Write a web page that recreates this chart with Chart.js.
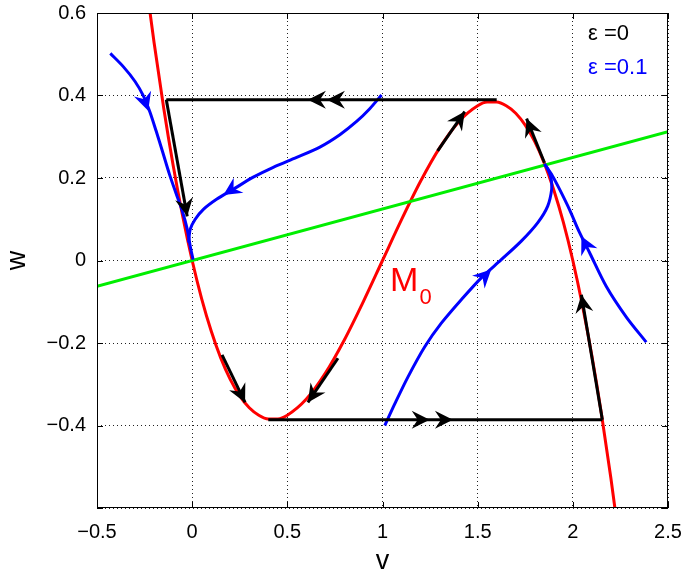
<!DOCTYPE html>
<html>
<head>
<meta charset="utf-8">
<script src="https://cdn.jsdelivr.net/npm/chart.js@4/dist/chart.umd.min.js"></script>
<style>
  html, body { margin: 0; padding: 0; background: #fff; }
</style>
</head>
<body>
<canvas id="myChart" width="685" height="578"></canvas>
<script>
// axes
const xTickValues = [-0.5, 0, 0.5, 1, 1.5, 2, 2.5];
const xTickLabels = ['\u22120.5', '0', '0.5', '1', '1.5', '2', '2.5'];
const yTickValues = [-0.6, -0.4, -0.2, 0, 0.2, 0.4, 0.6];
const yTickLabels = ['', '\u22120.4', '\u22120.2', '0', '0.2', '0.4', '0.6'];

// critical manifold M0 (red)
const redV = [-0.23, -0.2, -0.15, -0.1, -0.05, 0, 0.05, 0.1, 0.15, 0.2, 0.25, 0.3, 0.35, 0.4, 0.45, 0.5, 0.6, 0.7, 0.8, 0.9,
  1.0, 1.1, 1.2, 1.3, 1.4, 1.5, 1.55, 1.6, 1.65, 1.7, 1.75, 1.8, 1.85, 1.9, 1.95, 2.0, 2.05, 2.1, 2.15, 2.2, 2.23];
const redW = [0.631, 0.528, 0.371, 0.231, 0.108, 0, -0.093, -0.171, -0.236, -0.288, -0.328, -0.357, -0.375, -0.384, -0.384, -0.375, -0.336, -0.273, -0.192, -0.099,
  0, 0.099, 0.192, 0.273, 0.336, 0.375, 0.384, 0.384, 0.375, 0.357, 0.328, 0.288, 0.236, 0.171, 0.093, 0, -0.108, -0.231, -0.371, -0.528, -0.631];

// w nullcline (green)
const greenV = [-0.5, 2.5];
const greenW = [-0.0625, 0.3125];

// eps = 0.1 trajectories (blue)
const blue1V = [-0.43, -0.362, -0.3, -0.255, -0.222, -0.19, -0.155, -0.12, -0.085, -0.052, -0.026, -0.01, 0.005];
const blue1W = [0.502, 0.47, 0.434, 0.398, 0.36, 0.315, 0.263, 0.21, 0.163, 0.12, 0.076, 0.034, 0.002];
const blue2V = [0.995, 0.933, 0.864, 0.776, 0.671, 0.549, 0.426, 0.321, 0.217, 0.13, 0.059, 0.016, -0.01, -0.019];
const blue2W = [0.401, 0.368, 0.337, 0.305, 0.275, 0.25, 0.226, 0.202, 0.173, 0.149, 0.124, 0.1, 0.076, 0.043];
const blue3V = [1.012, 1.065, 1.134, 1.222, 1.309, 1.414, 1.519, 1.624, 1.729, 1.816, 1.868, 1.889, 1.886, 1.872, 1.851];
const blue3W = [-0.4, -0.347, -0.282, -0.209, -0.152, -0.095, -0.042, 0.002, 0.047, 0.092, 0.132, 0.173, 0.198, 0.218, 0.234];
const blue4V = [2.386, 2.281, 2.176, 2.087, 2.035, 1.982, 1.93, 1.893, 1.851];
const blue4W = [-0.198, -0.137, -0.063, 0.02, 0.068, 0.124, 0.173, 0.205, 0.234];

// eps = 0 singular orbit pieces (black)
const blackTopV = [-0.136, 1.6],     blackTopW = [0.39, 0.39];
const blackBottomV = [0.4, 2.155],   blackBottomW = [-0.386, -0.386];
const blackLeftV = [-0.136, -0.026], blackLeftW = [0.39, 0.107];
const blackRightV = [2.155, 2.045],  blackRightW = [-0.386, -0.083];
const blackS1V = [1.29, 1.432],  blackS1W = [0.266, 0.361];
const blackS2V = [1.851, 1.757], blackS2W = [0.237, 0.344];
const blackS3V = [0.157, 0.278], blackS3W = [-0.229, -0.344];
const blackS4V = [0.766, 0.608], blackS4W = [-0.237, -0.344];

// arrowheads: [tipV, tipW, tailV, tailW]
const blackArrows = [
  [0.608, 0.39, 0.75, 0.39],
  [0.708, 0.39, 0.85, 0.39],
  [1.248, -0.386, 1.1, -0.386],
  [1.37, -0.386, 1.2, -0.386],
  [-0.026, 0.107, -0.136, 0.39],
  [2.045, -0.083, 2.155, -0.386],
  [1.432, 0.361, 1.29, 0.266],
  [1.757, 0.344, 1.851, 0.237],
  [0.278, -0.344, 0.157, -0.229],
  [0.608, -0.344, 0.766, -0.237]
];
const blueArrows = [
  [-0.231, 0.363, -0.29, 0.445],
  [0.164, 0.159, 0.3, 0.199],
  [1.571, -0.022, 1.467, -0.069],
  [2.045, 0.059, 2.097, 0.01]
];

const FONT = "'Liberation Sans', Arial, Helvetica, sans-serif";

function pts(vs, ws) {
  return vs.map((v, i) => ({ x: v, y: ws[i] }));
}

function line(vs, ws, color, order, tension) {
  return {
    data: pts(vs, ws),
    showLine: true,
    borderColor: color,
    backgroundColor: color,
    borderWidth: 3,
    pointRadius: 0,
    tension: tension || 0,
    order: order,
    clip: 0
  };
}

const blackSegs = [
  [blackTopV, blackTopW], [blackBottomV, blackBottomW], [blackLeftV, blackLeftW], [blackRightV, blackRightW],
  [blackS1V, blackS1W], [blackS2V, blackS2W], [blackS3V, blackS3W], [blackS4V, blackS4W]
];

const datasets = [];
const red = line(redV, redW, '#ff0000', 5);
red.cubicInterpolationMode = 'monotone';
datasets.push(red);
datasets.push(line(greenV, greenW, '#00ee00', 4));
datasets.push(line(blue1V, blue1W, '#0000ff', 3, 0.3));
datasets.push(line(blue2V, blue2W, '#0000ff', 3, 0.3));
datasets.push(line(blue3V, blue3W, '#0000ff', 3, 0.3));
datasets.push(line(blue4V, blue4W, '#0000ff', 3, 0.3));
blackSegs.forEach(s => datasets.push(line(s[0], s[1], '#000000', 1)));

function drawArrow(ctx, xs, ys, a) {
  const tx = xs.getPixelForValue(a[0]), ty = ys.getPixelForValue(a[1]);
  const fx = xs.getPixelForValue(a[2]), fy = ys.getPixelForValue(a[3]);
  let dx = tx - fx, dy = ty - fy;
  const len = Math.hypot(dx, dy);
  dx /= len; dy /= len;
  const L = 18, W = 9, N = 12;
  const bx = tx - dx * L, by = ty - dy * L;
  ctx.beginPath();
  ctx.moveTo(tx, ty);
  ctx.lineTo(bx - dy * W, by + dx * W);
  ctx.lineTo(tx - dx * N, ty - dy * N);
  ctx.lineTo(bx + dy * W, by - dx * W);
  ctx.closePath();
  ctx.fill();
}

const extras = {
  id: 'extras',
  afterDatasetsDraw(chart) {
    const { ctx, chartArea: a, scales: { x, y } } = chart;
    ctx.save();
    ctx.fillStyle = '#000';
    blackArrows.forEach(ar => drawArrow(ctx, x, y, ar));
    ctx.fillStyle = '#0000ff';
    blueArrows.forEach(ar => drawArrow(ctx, x, y, ar));

    // box + inward ticks
    ctx.strokeStyle = '#000';
    ctx.lineWidth = 1;
    ctx.strokeRect(a.left + 0.5, a.top + 0.5, a.width - 1, a.height - 1);
    ctx.beginPath();
    xTickValues.forEach(v => {
      const px = Math.round(x.getPixelForValue(v)) + 0.5;
      ctx.moveTo(px, a.bottom); ctx.lineTo(px, a.bottom - 6);
      ctx.moveTo(px, a.top); ctx.lineTo(px, a.top + 6);
    });
    yTickValues.forEach(v => {
      const py = Math.round(y.getPixelForValue(v)) + 0.5;
      ctx.moveTo(a.left, py); ctx.lineTo(a.left + 6, py);
      ctx.moveTo(a.right, py); ctx.lineTo(a.right - 6, py);
    });
    ctx.stroke();

    // legend text
    ctx.textBaseline = 'alphabetic';
    ctx.textAlign = 'left';
    ctx.font = '22px ' + FONT;
    ctx.fillStyle = '#000';
    ctx.fillText('\u03b5 =0', x.getPixelForValue(2.08), y.getPixelForValue(0.535));
    ctx.fillStyle = '#0000ff';
    ctx.fillText('\u03b5 =0.1', x.getPixelForValue(2.08), y.getPixelForValue(0.452));

    // M0 label
    ctx.fillStyle = '#ff0000';
    ctx.font = '34px ' + FONT;
    const mx = x.getPixelForValue(1.04), my = y.getPixelForValue(-0.075);
    ctx.fillText('M', mx, my);
    const mw = ctx.measureText('M').width;
    ctx.font = '22px ' + FONT;
    ctx.fillText('0', mx + mw + 1, my + 13);
    ctx.restore();
  }
};

const ctx = document.getElementById('myChart').getContext('2d');
const myChart = new Chart(ctx, {
  type: 'scatter',
  data: { datasets: datasets },
  options: {
    responsive: false,
    animation: false,
    layout: { padding: { top: 13, right: 17, left: 0, bottom: 0 } },
    plugins: { legend: { display: false }, tooltip: { enabled: false } },
    scales: {
      x: {
        type: 'linear', min: -0.5, max: 2.5,
        afterBuildTicks: s => { s.ticks = xTickValues.map(v => ({ value: v })); },
        afterFit: s => { s.height = 70; s.paddingLeft = 0; s.paddingRight = 0; },
        ticks: {
          callback: (v, i) => xTickLabels[i],
          color: '#000', font: { family: FONT, size: 20 }, padding: 12, maxRotation: 0
        },
        grid: { color: '#222', lineWidth: 1, drawTicks: false },
        border: { display: false, dash: [1, 3] },
        title: { display: true, text: 'v', color: '#000', font: { family: FONT, size: 27 }, padding: { top: 0, bottom: 0 } }
      },
      y: {
        type: 'linear', min: -0.6, max: 0.6,
        afterBuildTicks: s => { s.ticks = yTickValues.map(v => ({ value: v })); },
        afterFit: s => { s.width = 97; s.paddingTop = 0; s.paddingBottom = 0; },
        ticks: {
          callback: (v, i) => yTickLabels[i],
          color: '#000', font: { family: FONT, size: 20 }, padding: 11
        },
        grid: { color: '#222', lineWidth: 1, drawTicks: false },
        border: { display: false, dash: [1, 3] },
        title: { display: true, text: 'w', color: '#000', font: { family: FONT, size: 27 }, padding: { top: 1, bottom: 0 } }
      }
    }
  },
  plugins: [extras]
});
</script>
</body>
</html>
